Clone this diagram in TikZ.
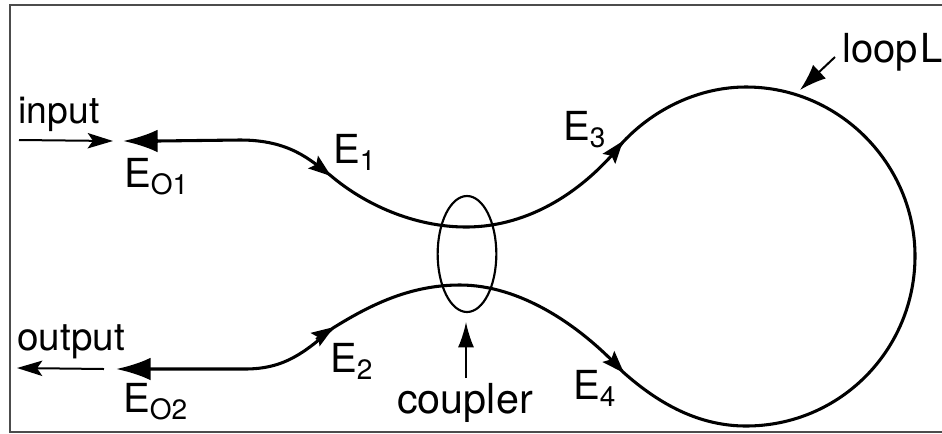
\documentclass[tikz,border=0pt]{standalone}
\usepackage{fontspec}
\setmainfont{TeX Gyre Heros}
\usetikzlibrary{arrows.meta,shapes.geometric}
\tikzset{
  fibre/.style={line width=2.3pt,line cap=round},
  smalltip/.style={-{Stealth[length=19pt,width=11.5pt,inset=4pt]},line width=1.5pt},
  dirtip/.style={-{Stealth[length=17pt,width=12pt,inset=3pt]},line width=1.5pt},
  bigtip/.style={-{Latex[length=26pt,width=17pt]},line width=2.6pt},
  lbl/.style={inner sep=0pt,anchor=base west,font=\fontsize{30}{32}\selectfont},
}
\newcommand{\subtxt}[1]{\raisebox{-5.5pt}{\fontsize{21}{22}\selectfont #1}}
\begin{document}
\begin{tikzpicture}[x=0.75pt,y=-0.75pt]
\useasboundingbox (0,0) rectangle (942,433);
% frame
\draw[line width=1.3pt,color=black!70] (942,5) -- (10,5) -- (10,432) -- (942,432);
% coordinates
\coordinate (a1) at (158,141);
\coordinate (top) at (746,87);
\coordinate (bot) at (746,426);
% fibre
\draw[fibre] (a1) -- (240,140) .. controls (290,140) and (310,160) .. (330,175)
  .. controls (365,205) and (415,227) .. (466,227)
  .. controls (530,227) and (585,190) .. (623,142)
  .. controls (655,108) and (700,87) .. (top)
  .. controls (840,87) and (915,165) .. (915,256)
  .. controls (915,350) and (840,426) .. (bot)
  .. controls (700,426) and (660,405) .. (623,372)
  .. controls (580,325) and (520,285) .. (460,285)
  .. controls (410,285) and (370,305) .. (333,328)
  .. controls (305,352) and (285,369) .. (245,369) -- (150,369);
% end tips
\draw[bigtip] (158,141) -- (123,141);
\draw[bigtip] (150,369) -- (116,369);
% direction tips
\coordinate (e1s) at (313,162); \coordinate (e1t) at (331,176);
\draw[dirtip] (e1s) -- (e1t);
\coordinate (e2s) at (316,339); \coordinate (e2t) at (334,327);
\draw[dirtip] (e2s) -- (e2t);
\coordinate (e3s) at (608,160); \coordinate (e3t) at (623,141);
\draw[dirtip] (e3s) -- (e3t);
\coordinate (e4s) at (608,356); \coordinate (e4t) at (624,373);
\draw[dirtip] (e4s) -- (e4t);
% coupler ellipse
\node[draw,ellipse,line width=1.6pt,minimum width=44pt,minimum height=87pt,inner sep=0pt] (cp) at (467,254) {};
% labels
\node[lbl,font=\fontsize{28}{30}\selectfont] (input) at (18,123) {input};
\node[lbl,font=\fontsize{29}{31}\selectfont] (output) at (17,350) {output};
\node[lbl] (eo1) at (124,187) {E\subtxt{O1}};
\node[lbl] (eo2) at (123,412) {E\subtxt{O2}};
\node[lbl] (e1) at (333,163) {E\subtxt{1}};
\node[lbl] (e2) at (330,372) {E\subtxt{2}};
\node[lbl] (e3) at (563,140) {E\subtxt{3}};
\node[lbl] (e4) at (573,399) {E\subtxt{4}};
\node[lbl,font=\fontsize{31}{33}\selectfont] (coupler) at (397,413) {coupler};
\node[lbl] (loop) at (842,62) {loop\kern2pt L};
% pointers
\coordinate (inS) at (19,140); \coordinate (inT) at (113,141);
\draw[smalltip] (inS) -- (inT);
\coordinate (outS) at (104,369); \coordinate (outT) at (17,368);
\draw[smalltip] (outS) -- (outT);
\coordinate (cS) at (466,378); \coordinate (cT) at (466,322);
\draw[smalltip,-{Latex[length=19pt,width=12pt]}] (cS) -- (cT);
\coordinate (lS) at (835,57); \coordinate (lT) at (800,90);
\draw[smalltip,-{Latex[length=20pt,width=14pt]}] (lS) -- (lT);
\end{tikzpicture}
\end{document}
